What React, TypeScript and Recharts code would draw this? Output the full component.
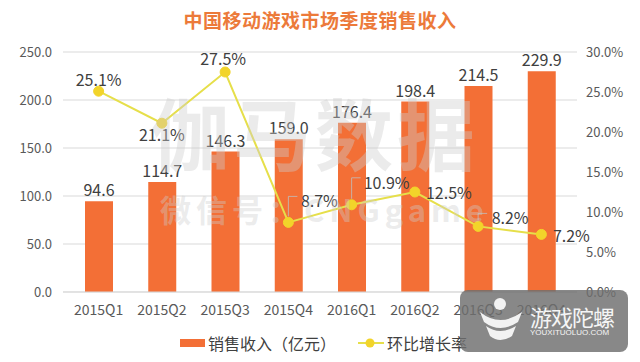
import { ComposedChart, Bar, Line, XAxis, YAxis, CartesianGrid, LabelList } from "recharts"

const quarters = ["2015Q1", "2015Q2", "2015Q3", "2015Q4", "2016Q1", "2016Q2", "2016Q3", "2016Q4"]
const revenue = [94.6, 114.7, 146.3, 159.0, 176.4, 198.4, 214.5, 229.9]
const growth = [25.1, 21.1, 27.5, 8.7, 10.9, 12.5, 8.2, 7.2]
const leftTicks = [0, 50, 100, 150, 200, 250]
const rightTicks = [0, 5, 10, 15, 20, 25, 30]

const data = quarters.map((q, i) => ({ quarter: q, revenue: revenue[i], growth: growth[i] }))

// where each growth label sits relative to its point: [dx, dy, leader line]
const growthLabelPos: Array<[number, number, boolean]> = [
    [0, -12, false],
    [0, 11, false],
    [-2, -14, false],
    [31, -22, true],
    [35, -23, true],
    [34, 0, false],
    [32, -9, true],
    [30, 1, false],
]

const FONT = "'Noto Sans CJK SC', 'Noto Sans', sans-serif"
const BAR = "#f36f36"
const LINE = "#e6df4a"
const DOT = "#f2d42a"
const TEXT = "#404040"

const GrowthLabel = (props: any) => {
    const { x, y, value, index } = props
    const [dx, dy, leader] = growthLabelPos[index]
    const cx = x + dx
    const cy = y + dy
    return (
        <g>
            {leader && (
                <path
                    d={`M${x},${y - 6} L${x},${cy - 4} L${x + 9},${cy - 4}`}
                    fill="none"
                    stroke="#bfbfbf"
                    strokeWidth={0.8}
                />
            )}
            <text
                x={cx}
                y={cy}
                textAnchor="middle"
                dominantBaseline="central"
                fontSize={16}
                fontFamily={FONT}
                fill={TEXT}
            >
                {value.toFixed(1)}%
            </text>
        </g>
    )
}

export default function App() {
    return (
        <div style={{ position: "absolute", left: 0, top: 0, width: 640, height: 362, background: "#fff", fontFamily: FONT }}>
            <div
                style={{
                    position: "absolute",
                    top: 6,
                    width: 640,
                    textAlign: "center",
                    fontSize: 19,
                    fontWeight: 700,
                    color: "#ec7a3a",
                    letterSpacing: 0.5,
                }}
            >
                中国移动游戏市场季度销售收入
            </div>
            <ComposedChart
                width={640}
                height={362}
                data={data}
                margin={{ top: 52, right: 0, bottom: 40, left: 0 }}
                barSize={28}
            >
                <CartesianGrid yAxisId="left" vertical={false} stroke="#d9d9d9" />
                <XAxis
                    dataKey="quarter"
                    padding={{ left: 4, right: 4 }}
                    height={30}
                    tickLine={false}
                    axisLine={{ stroke: "#d9d9d9" }}
                    tickMargin={7}
                    tick={{ fontSize: 14, fill: "#595959", fontFamily: FONT }}
                    interval={0}
                />
                <YAxis
                    yAxisId="left"
                    domain={[0, 250]}
                    ticks={leftTicks}
                    width={63}
                    axisLine={false}
                    tickLine={false}
                    tickMargin={5}
                    tickFormatter={(v: number) => v.toFixed(1)}
                    tick={{ fontSize: 13, fill: "#595959", fontFamily: FONT }}
                />
                <YAxis
                    yAxisId="right"
                    orientation="right"
                    domain={[0, 30]}
                    ticks={rightTicks}
                    width={63}
                    axisLine={false}
                    tickLine={false}
                    tickMargin={3}
                    tickFormatter={(v: number) => `${v.toFixed(1)}%`}
                    tick={{ fontSize: 13, fill: "#595959", fontFamily: FONT, textAnchor: "start" }}
                />
                <Bar yAxisId="left" dataKey="revenue" fill={BAR} isAnimationActive={false}>
                    <LabelList
                        dataKey="revenue"
                        position="top"
                        offset={5}
                        formatter={(v: number) => v.toFixed(1)}
                        style={{ fontSize: 16, fill: TEXT, fontFamily: FONT }}
                    />
                </Bar>
                <Line
                    yAxisId="right"
                    dataKey="growth"
                    stroke={LINE}
                    strokeWidth={2}
                    dot={{ r: 5, fill: DOT, stroke: DOT, strokeWidth: 1 }}
                    isAnimationActive={false}
                >
                    <LabelList dataKey="growth" content={GrowthLabel} />
                </Line>
            </ComposedChart>

            {/* watermark */}
            <div
                style={{
                    position: "absolute",
                    left: 150,
                    top: 92,
                    width: 330,
                    textAlign: "center",
                    fontSize: 78,
                    fontWeight: 700,
                    letterSpacing: 4,
                    color: "rgba(205,205,205,0.4)",
                    pointerEvents: "none",
                    lineHeight: 1,
                }}
            >
                伽马数据
            </div>
            <div
                style={{
                    position: "absolute",
                    left: 160,
                    top: 193,
                    fontSize: 31,
                    fontWeight: 700,
                    letterSpacing: 5,
                    color: "rgba(205,205,205,0.4)",
                    pointerEvents: "none",
                    lineHeight: 1,
                }}
            >
                微信号：CNGgame
            </div>

            {/* legend */}
            <div
                style={{
                    position: "absolute",
                    top: 333,
                    left: 180,
                    display: "flex",
                    alignItems: "center",
                    fontSize: 16,
                    color: TEXT,
                    lineHeight: "20px",
                }}
            >
                <span style={{ display: "inline-block", width: 25, height: 8, background: BAR, marginRight: 3 }} />
                <span>销售收入（亿元）</span>
                <svg width={26} height={12} style={{ marginLeft: 22, marginRight: 3 }}>
                    <line x1={0} y1={6} x2={26} y2={6} stroke={LINE} strokeWidth={2} />
                    <circle cx={12} cy={6} r={4.5} fill={DOT} />
                </svg>
                <span>环比增长率</span>
            </div>

            {/* site badge */}
            <div
                style={{
                    position: "absolute",
                    left: 460,
                    top: 290,
                    width: 168,
                    height: 62,
                    borderRadius: 8,
                    background: "rgba(110,110,110,0.82)",
                    pointerEvents: "none",
                }}
            >
                <svg width={50} height={50} style={{ position: "absolute", left: 18, top: 6 }}>
                    <circle cx={22} cy={8} r={6} fill="#f2f2f2" />
                    <path d="M2,16 Q22,32 44,16 L40,26 Q22,38 6,26 Z" fill="#f2f2f2" />
                    <path d="M8,30 Q22,40 38,30 L34,40 Q22,48 12,40 Z" fill="#f2f2f2" />
                </svg>
                <div
                    style={{
                        position: "absolute",
                        left: 70,
                        top: 15,
                        fontSize: 22,
                        color: "#f5f5f5",
                        lineHeight: 1,
                        letterSpacing: -1,
                    }}
                >
                    游戏陀螺
                </div>
                <div
                    style={{
                        position: "absolute",
                        left: 70,
                        top: 39,
                        fontSize: 8,
                        color: "#f5f5f5",
                        fontFamily: "'Liberation Sans', sans-serif",
                        lineHeight: 1,
                    }}
                >
                    YOUXITUOLUO.COM
                </div>
            </div>
        </div>
    )
}
